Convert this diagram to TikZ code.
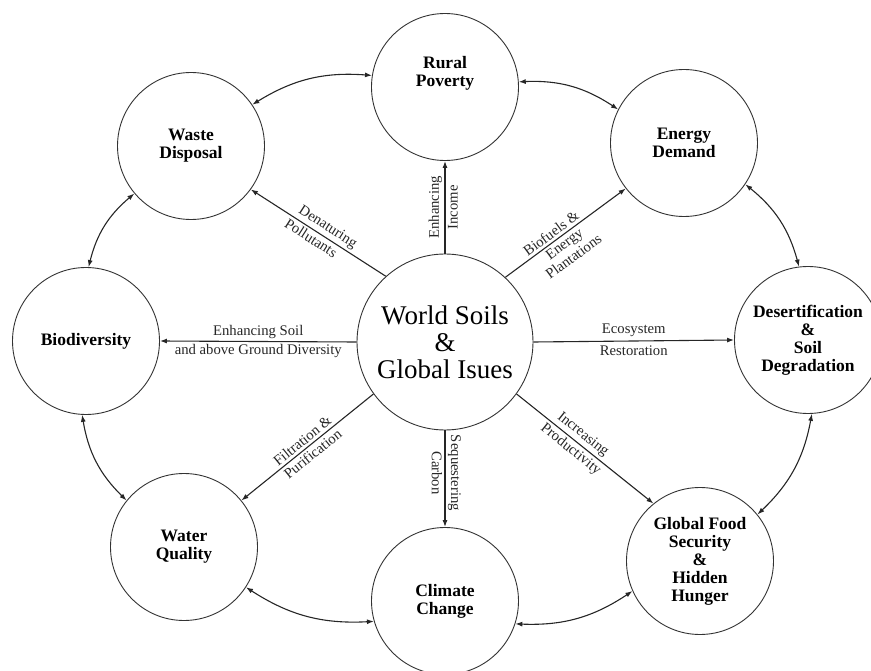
\documentclass[tikz,border=0pt]{standalone}
\usepackage{fontspec}
\setmainfont{Liberation Serif}
\usetikzlibrary{arrows.meta}

\begin{document}
\begin{tikzpicture}[
        x=1pt, y=1pt,
        hubtext/.style={align=center, font=\fontsize{17.5}{18}\selectfont\bfseries},
        core/.style={circle, draw=black!80, line width=0.9pt, minimum size=176pt, inner sep=0pt, align=center, font=\fontsize{27}{27}\selectfont},
        hub/.style={circle, draw=black!80, line width=0.9pt, minimum size=147pt, inner sep=0pt, hubtext},
        arrow/.style={-{Latex[length=7pt, width=5pt]}, line width=1.1pt, draw=black!85},
        link/.style={{Latex[length=7pt, width=5pt]}-{Latex[length=7pt, width=5pt]}, line width=1.1pt, draw=black!85, bend left=18},
        lbl/.style={font=\fontsize{14.7}{16}\selectfont, inner sep=2.5pt, align=center, text=black!85}
    ]
    \useasboundingbox (0,0) rectangle (871,-671);

    % Centre
    \node[core] (soils) at (445,-342) {World Soils\\\&\\Global Isues};

    % Outer ring
    \node[hub, label={[hubtext, yshift=14pt]center:Rural\\Poverty}] (rural) at (445,-87) {};
    \node[hub] (energy) at (684,-143) {Energy\\Demand};
    \node[hub] (desert) at (808,-340) {Desertification\\\&\\Soil\\Degradation};
    \node[hub] (food) at (700,-561) {Global Food\\Security\\\&\\Hidden\\Hunger};
    \node[hub] (climate) at (445,-601) {Climate\\Change};
    \node[hub] (water) at (184,-547) {Water\\Quality};
    \node[hub] (bio) at (86,-341) {Biodiversity};
    \node[hub] (waste) at (191,-146) {Waste\\Disposal};

    % Spokes
    \draw[arrow] (soils.90) -- node[lbl, pos=0.5, anchor=south, rotate=90] {Enhancing}
        node[lbl, pos=0.5, anchor=north, rotate=90] {Income} (rural.-90);
    \draw[arrow] (soils.132) -- node[lbl, sloped, pos=0.47, above] {Denaturing}
        node[lbl, sloped, pos=0.52, below] {Pollutants} (waste.-36);
    \draw[arrow] (soils.47) -- node[lbl, sloped, pos=0.42, above] {Biofuels \&}
        node[lbl, sloped, pos=0.45, below] {Energy\\Plantations} (energy.218);
    \draw[arrow] (soils.180) -- node[lbl, above] {Enhancing Soil}
        node[lbl, below] {and above Ground Diversity} (bio.0);
    \draw[arrow] (soils.0) -- node[lbl, above, inner sep=4pt] {Ecosystem}
        node[lbl, below, inner sep=4pt] {Restoration} (desert.180);
    \draw[arrow] (soils.-36) -- node[lbl, sloped, pos=0.44, above] {Increasing}
        node[lbl, sloped, pos=0.44, below] {Productivity} (food.129);
    \draw[arrow] (soils.-90) -- node[lbl, pos=0.44, anchor=south, rotate=-90] {Sequestering}
        node[lbl, pos=0.44, anchor=north, rotate=-90] {Carbon} (climate.90);
    \draw[arrow] (soils.216) -- node[lbl, sloped, above] {Filtration \&}
        node[lbl, sloped, below] {Purification} (water.39);

    % Ring links
    \draw[link] (waste.34) to (rural.171);
    \draw[link] (rural.4) to (energy.153);
    \draw[link] (energy.-34) to (desert.97);
    \draw[link] (desert.-87) to (food.39);
    \draw[link] (food.204) to (climate.-18);
    \draw[link] (climate.196) to (water.-33);
    \draw[link] (water.141) to (bio.267);
    \draw[link] (bio.88) to (waste.220);

\end{tikzpicture}
\end{document}
